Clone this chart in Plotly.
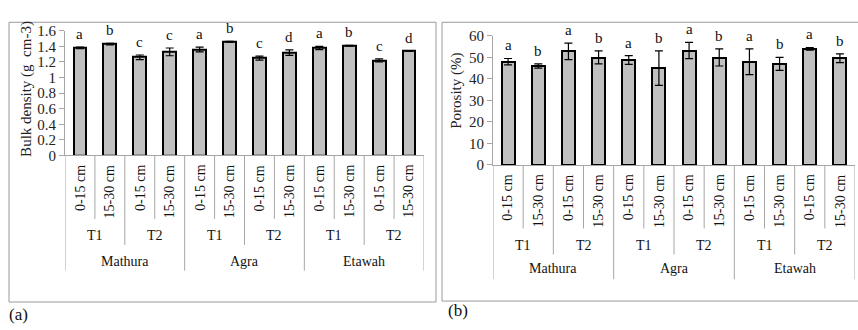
import plotly.graph_objects as go

# ---------------- data ----------------
locations = ["Mathura", "Agra", "Etawah"]
treatments = ["T1", "T2"]
depths = ["0-15 cm", "15-30 cm"]

bulk_density = [1.38, 1.43, 1.26, 1.33, 1.36, 1.46, 1.25, 1.32, 1.38, 1.41, 1.22, 1.34]
bulk_err = [0.01, 0.01, 0.03, 0.05, 0.03, 0.005, 0.025, 0.035, 0.02, 0.005, 0.02, 0.005]
bulk_letters = ["a", "b", "c", "c", "a", "b", "c", "d", "a", "b", "c", "d"]

porosity = [48.0, 46.0, 52.8, 50.0, 48.8, 45.0, 53.2, 50.0, 48.0, 47.0, 54.0, 49.6]
poro_err = [1.5, 1.0, 3.8, 3.0, 2.0, 8.0, 3.8, 4.0, 6.0, 3.0, 0.6, 2.0]
poro_letters = ["a", "b", "a", "b", "a", "b", "a", "b", "a", "b", "a", "b"]

# category index layout (location > treatment > depth)
cats = [(l, t, d) for l in locations for t in treatments for d in depths]
xs = list(range(len(cats)))

W, H = 858, 330
SERIF = "Liberation Serif"
GRID = "#a6a6a6"

def px_x(p):
    return p / W

def px_y(p):
    return (H - p) / H

panels = {
    "a": dict(x0=65, x1=424, ytop=24, ybot=155, lab_top=163, dep_bot=221.7, trt_bot=249,
              loc_bot=276, trt_y=239.5, loc_y=266, title_x=27, title_y=85,
              title="Bulk density (g  cm-3)", rng=[0, 1.6], dtick=0.2,
              vals=bulk_density, err=bulk_err, letters=bulk_letters,
              box=(9, 15, 436, 309), tag="(a)", tag_x=18, tag_y=322),
    "b": dict(x0=493, x1=855, ytop=29.3, ybot=165, lab_top=173, dep_bot=231.7, trt_bot=259,
              loc_bot=285, trt_y=250, loc_y=274, title_x=457, title_y=87,
              title="Porosity (%)", rng=[0, 60], dtick=10,
              vals=porosity, err=poro_err, letters=poro_letters,
              box=(442, 15, 870, 308), tag="(b)", tag_x=458, tag_y=318),
}

fig = go.Figure()
annotations = []
shapes = []

for k, (key, p) in enumerate(panels.items()):
    sfx = "" if k == 0 else "2"
    xa, ya = "x" + sfx, "y" + sfx
    fig.add_trace(go.Bar(
        x=xs, y=p["vals"], xaxis=xa, yaxis=ya, width=0.43,
        marker=dict(color="#c0c0c0", line=dict(color="black", width=2)),
        error_y=dict(type="data", array=p["err"], color="black", thickness=1.2, width=4),
        showlegend=False, hoverinfo="y",
    ))
    fig.layout["xaxis" + sfx] = dict(
        domain=[px_x(p["x0"]), px_x(p["x1"])], anchor=ya, range=[-0.5, len(cats) - 0.5],
        showticklabels=False, showgrid=False, zeroline=False, ticks="",
        showline=True, linecolor=GRID, linewidth=1)
    fig.layout["yaxis" + sfx] = dict(
        domain=[px_y(p["ybot"]), px_y(p["ytop"])], anchor=xa, range=p["rng"], dtick=p["dtick"],
        showgrid=False, zeroline=False, ticks="outside", ticklen=5, tickcolor=GRID,
        showline=True, linecolor=GRID, linewidth=1,
        tickfont=dict(family=SERIF, size=15, color="#222"))

    # significance letters
    for i, (v, e, L) in enumerate(zip(p["vals"], p["err"], p["letters"])):
        annotations.append(dict(x=xs[i], y=v + e, xref=xa, yref=ya, text=L, showarrow=False,
                                yanchor="bottom", yshift=3,
                                font=dict(family=SERIF, size=15, color="#111")))

    # depth labels
    for i, (l, t, d) in enumerate(cats):
        annotations.append(dict(x=xs[i], y=px_y(p["lab_top"]), xref=xa, yref="paper", text=d,
                                textangle=-90, showarrow=False, yanchor="top", xanchor="center",
                                font=dict(family=SERIF, size=14, color="#111")))
    # treatment labels
    nd = len(depths)
    for j in range(len(locations) * len(treatments)):
        cx = (xs[j * nd] + xs[j * nd + nd - 1]) / 2
        annotations.append(dict(x=cx, y=px_y(p["trt_y"]), xref=xa, yref="paper",
                                text=cats[j * nd][1], showarrow=False, yanchor="middle",
                                font=dict(family=SERIF, size=14, color="#111")))
    # location labels
    per_loc = len(treatments) * nd
    for j, loc in enumerate(locations):
        cx = (xs[j * per_loc] + xs[j * per_loc + per_loc - 1]) / 2
        annotations.append(dict(x=cx, y=px_y(p["loc_y"]), xref=xa, yref="paper",
                                text=loc, showarrow=False, yanchor="middle",
                                font=dict(family=SERIF, size=14, color="#111")))

    # separator lines
    for b in range(len(cats) + 1):
        xb = b - 0.5
        if b % per_loc == 0:
            bot = p["loc_bot"]
        elif b % nd == 0:
            bot = p["trt_bot"]
        else:
            bot = p["dep_bot"]
        shapes.append(dict(type="line", xref=xa, yref="paper", x0=xb, x1=xb,
                           y0=px_y(p["ybot"]), y1=px_y(bot),
                           line=dict(color=GRID, width=1)))

    # y title
    annotations.append(dict(x=px_x(p["title_x"]), y=px_y(p["title_y"]), xref="paper", yref="paper",
                            text=p["title"], textangle=-90, showarrow=False,
                            xanchor="center", yanchor="middle",
                            font=dict(family=SERIF, size=15, color="#222")))
    # panel border
    bx0, by0, bx1, by1 = p["box"]
    shapes.append(dict(type="rect", xref="paper", yref="paper",
                       x0=px_x(bx0), x1=px_x(bx1), y0=px_y(by1), y1=px_y(by0),
                       line=dict(color="#9a9a9a", width=1)))
    # panel tag
    annotations.append(dict(x=px_x(p["tag_x"]), y=px_y(p["tag_y"]), xref="paper", yref="paper",
                            text=p["tag"], showarrow=False, xanchor="center", yanchor="middle",
                            font=dict(family=SERIF, size=17, color="#111")))

fig.update_layout(
    width=W, height=H, autosize=False,
    margin=dict(l=0, r=0, t=0, b=0),
    paper_bgcolor="white", plot_bgcolor="white",
    annotations=annotations, shapes=shapes,
    bargap=0,
)

fig.write_html("out.html", config={"displayModeBar": False},
               post_script="document.body.style.margin='0';document.body.style.overflow='hidden';")
